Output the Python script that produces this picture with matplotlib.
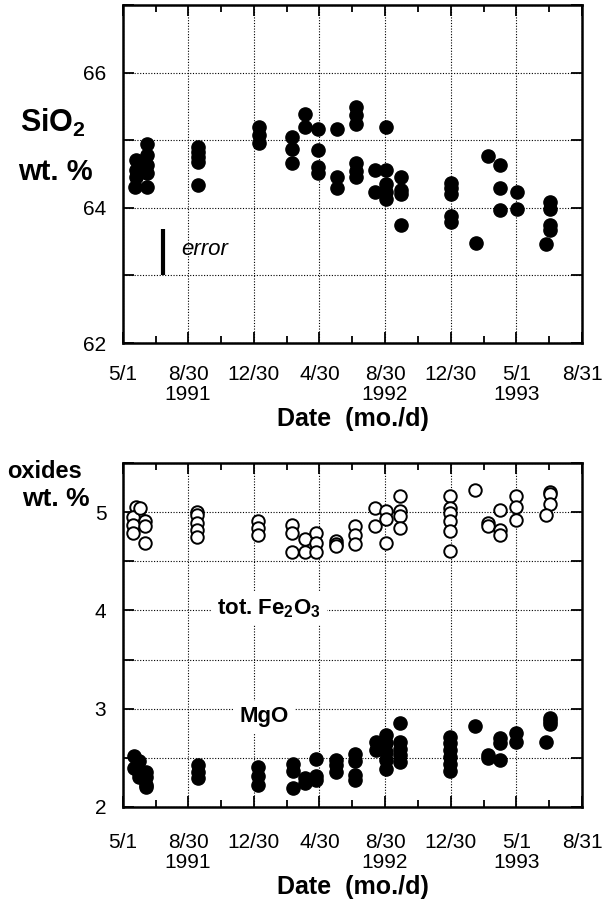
import numpy as np
import matplotlib
matplotlib.use('Agg')
import matplotlib.pyplot as plt

plt.rcParams['font.family'] = ['Liberation Sans', 'DejaVu Sans']
plt.rcParams['mathtext.fontset'] = 'custom'
plt.rcParams['mathtext.rm'] = 'Liberation Sans'
plt.rcParams['mathtext.bf'] = 'Liberation Sans:bold'
plt.rcParams['mathtext.it'] = 'Liberation Sans:italic'

# x values are days after 5/1/1991
tick_days = [0, 121, 243, 365, 487, 609, 731, 853]
tick_labels = ['5/1', '8/30\n1991', '12/30', '4/30', '8/30\n1992', '12/30', '5/1\n1993', '8/31']

# SiO2 (wt. %)
sio2_days = [22, 25, 25, 25, 44, 44, 44, 44, 44,
             139, 139, 139, 139, 139,
             253, 253, 253,
             315, 315, 315,
             338, 338,
             362, 362, 362, 362,
             397, 397, 397,
             433, 433, 433, 433, 433, 433,
             469, 469,
             489, 489, 489, 489, 489,
             516, 516, 516, 516,
             609, 609, 609, 609, 609,
             656, 679, 700, 700, 700, 732, 732,
             794, 794, 794, 794, 787]
sio2 = [64.31, 64.71, 64.56, 64.46, 64.95, 64.78, 64.63, 64.51, 64.31,
        64.90, 64.83, 64.75, 64.68, 64.33,
        65.20, 65.08, 64.96,
        65.04, 64.87, 64.66,
        65.39, 65.20,
        65.17, 64.86, 64.60, 64.51,
        65.17, 64.46, 64.29,
        65.49, 65.38, 65.24, 64.67, 64.55, 64.45,
        64.56, 64.23,
        65.19, 64.56, 64.35, 64.23, 64.13,
        64.45, 64.27, 64.20, 63.74,
        64.37, 64.29, 64.21, 63.88, 63.79,
        63.48, 64.76, 64.63, 64.30, 63.97, 64.23, 63.98,
        64.08, 63.98, 63.75, 63.67, 63.47]

# total Fe2O3 (wt. %)
fe_days = [25, 28, 28, 19, 19, 19, 32, 40, 40, 40,
           137, 137, 137, 137, 137,
           251, 251, 251,
           314, 314, 314,
           338, 338,
           358, 358, 358,
           395, 395, 395,
           431, 431, 431,
           469, 469,
           488, 488, 488,
           514, 514, 514, 514,
           608, 608, 608, 608, 608, 608,
           655, 678, 678, 700, 700, 700, 731, 731, 731,
           794, 794, 794, 787]
fe2o3 = [5.05, 4.97, 4.89, 4.95, 4.87, 4.79, 5.04, 4.91, 4.86, 4.69,
         5.00, 4.97, 4.89, 4.82, 4.75,
         4.91, 4.84, 4.77,
         4.87, 4.79, 4.59,
         4.73, 4.59,
         4.79, 4.69, 4.59,
         4.71, 4.68, 4.66,
         4.86, 4.77, 4.68,
         5.04, 4.86,
         5.01, 4.93, 4.69,
         5.16, 5.01, 4.96, 4.84,
         5.16, 5.04, 4.99, 4.91, 4.81, 4.60,
         5.22, 4.89, 4.86, 5.02, 4.82, 4.77, 5.16, 5.05, 4.92,
         5.20, 5.18, 5.08, 4.97]

# MgO (wt. %)
mgo_days = [20, 20, 30, 30, 30, 43, 43, 43, 43,
            139, 139, 139,
            251, 251, 251,
            316, 316, 316,
            338, 338,
            359, 359, 359,
            396, 396, 396,
            431, 431, 431, 431,
            470, 470, 481, 488, 488, 488, 488, 488,
            514, 514, 514, 514, 514,
            608, 608, 608, 608, 608, 608,
            655, 678, 678, 700, 700, 700, 731, 731,
            794, 794, 794, 787]
mgo = [2.52, 2.40, 2.47, 2.35, 2.31, 2.36, 2.30, 2.22, 2.20,
       2.43, 2.36, 2.29,
       2.41, 2.32, 2.22,
       2.44, 2.37, 2.19,
       2.29, 2.24,
       2.49, 2.32, 2.27,
       2.48, 2.43, 2.36,
       2.54, 2.47, 2.33, 2.27,
       2.66, 2.58, 2.61, 2.73, 2.65, 2.56, 2.48, 2.39,
       2.85, 2.66, 2.59, 2.53, 2.46,
       2.71, 2.65, 2.58, 2.51, 2.44, 2.37,
       2.82, 2.53, 2.50, 2.70, 2.65, 2.48, 2.75, 2.66,
       2.91, 2.87, 2.84, 2.66]

# size of analytical error bar (SiO2)
err_day = 75
err_lo, err_hi = 63.0, 63.68

minor_days = [(a + b) / 2 for a, b in zip(tick_days[:-1], tick_days[1:])]
grid_style = dict(color='black', linestyle=(0, (1, 1.5)), linewidth=0.8)


def style_axes(ax, label_pad):
    ax.set_xlim(tick_days[0], tick_days[-1])
    ax.set_xticks(tick_days)
    ax.set_xticklabels(tick_labels)
    ax.set_xticks(minor_days, minor=True)
    ax.tick_params(which='both', direction='in', top=True, right=True, width=1.3)
    ax.tick_params(which='major', length=8, labelsize=15)
    ax.tick_params(which='minor', length=5)
    ax.tick_params(axis='x', which='major', pad=label_pad)
    ax.tick_params(axis='y', which='major', pad=12)
    for lab in ax.get_xticklabels():
        lab.set_linespacing(1.05)
    ax.grid(True, which='major', **grid_style)
    ax.set_axisbelow(True)
    for sp in ax.spines.values():
        sp.set_linewidth(1.8)
    ax.set_xlabel('Date  (mo./d)', fontsize=18, fontweight='bold')


fig = plt.figure(figsize=(6.02, 9.06), dpi=100)

# top panel: SiO2
ax1 = fig.add_axes([0.2043, 0.6214, 0.7625, 0.3731])
ax1.plot(sio2_days, sio2, 'o', color='black', markersize=9.5, zorder=3)
ax1.plot([err_day, err_day], [err_lo, err_hi], color='black', linewidth=3, solid_capstyle='butt')
ax1.text(108, 63.38, 'error', fontsize=16, fontstyle='italic', va='center', ha='left')
ax1.set_ylim(62, 67)
ax1.set_yticks([62, 63, 64, 65, 66, 67])
ax1.set_yticklabels(['62', '', '64', '', '66', ''])
style_axes(ax1, 16)
ax1.xaxis.labelpad = 2
fig.text(0.033, 0.8546, r'$\mathbf{SiO_2}$', fontsize=22)
fig.text(0.030, 0.8013, 'wt. %', fontsize=21, fontweight='bold')

# bottom panel: Fe2O3 and MgO
ax2 = fig.add_axes([0.2043, 0.1093, 0.7625, 0.3797])
ax2.plot(fe_days, fe2o3, 'o', markerfacecolor='white', markeredgecolor='black',
         markeredgewidth=1.4, markersize=9, zorder=3)
ax2.plot(mgo_days, mgo, 'o', color='black', markersize=9.5, zorder=3)
ax2.set_ylim(2, 5.5)
ax2.set_yticks(np.arange(2, 5.51, 0.5))
ax2.set_yticklabels(['2', '', '3', '', '4', '', '5', ''])
style_axes(ax2, 19)
ax2.xaxis.labelpad = 2
box = dict(facecolor='white', edgecolor='none', pad=4)
ax2.text(175, 3.96, r'tot. Fe$_\mathbf{2}$O$_\mathbf{3}$', fontsize=16, fontweight='bold',
         va='baseline', ha='left', bbox=box, zorder=2)
ax2.text(217, 2.86, 'MgO', fontsize=16, fontweight='bold', va='baseline', ha='left',
         bbox=box, zorder=2)
fig.text(0.012, 0.4724, 'oxides', fontsize=17, fontweight='bold')
fig.text(0.037, 0.4415, 'wt. %', fontsize=19, fontweight='bold')

fig.savefig('out.png', dpi=100)
